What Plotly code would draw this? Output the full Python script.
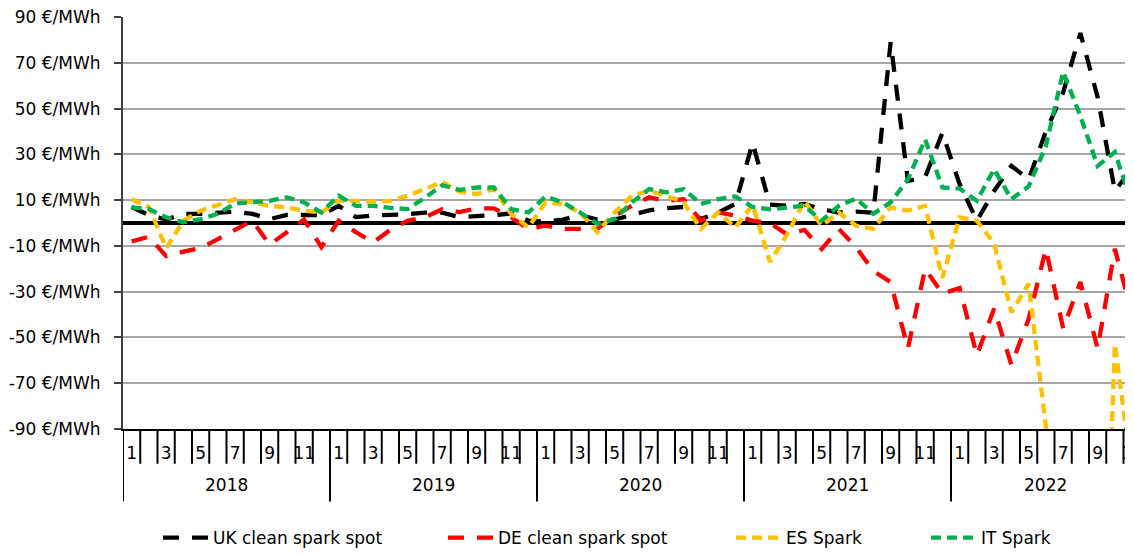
import plotly.graph_objects as go

# ---------------- data ----------------
years = [2018, 2019, 2020, 2021, 2022]
month_numbers = list(range(1, 13))
tick_months = [1, 3, 5, 7, 9, 11]
y_ticks = [90, 70, 50, 30, 10, -10, -30, -50, -70, -90]

# monthly periods Jan 2018 .. Nov 2022
periods = [(y, m) for y in years for m in month_numbers if not (y == 2022 and m == 12)]

uk_clean_spark = [7, 3.5, 1.5, 4, 4, 4.5, 5, 4, 1.7, 3.5, 3.5, 3.5,
                  7.5, 2.6, 3.3, 3.5, 3.8, 4.5, 4.5, 2.6, 2.9, 3.4, 4.2, 1,
                  0.6, 1.5, 3.5, 1.5, 1.5, 3.5, 5.5, 6.5, 7, 1.7, 4.6, 8.3,
                  35, 8, 7.5, 8.3, 6, 4.6, 5, 4.5, 79, 18.4, 20, 39.4,
                  17, 1, 14, 25, 19, 40, 57, 83, 55, 14, 24]

de_clean_spark = [-8, -6, -14.5, -12.5, -11, -7, -2.5, 1, -9.5, -4, 1.5, -10.5,
                  1, -4, -8.5, -3, 1, 2.5, 6, 4.8, 6.4, 6.4, 2.5, -2.6,
                  -1.2, -2.6, -2.6, -2.6, 3.2, 7.5, 11.2, 9.7, 10.4, 1, 4.6, 3.2,
                  1, 0, -5, -3, -11.4, -2.6, -10.6, -21, -25.8, -54.8, -20, -30.9,
                  -28.4, -57.8, -37.4, -62, -42, -11.3, -46, -25.8, -54.8, -11.3, -40]

es_spark = [10.4, 7, -11, 1, 5.4, 8, 10.4, 9, 7.5, 6.8, 5.4, 4.6,
            9.7, 9.7, 9.3, 9.7, 11.9, 14.8, 18, 13.7, 12.6, 14.8, 3.9, -1.9,
            9, 8.3, 4.6, -4, 4.6, 11.9, 14, 11.9, 9, -2.6, 4.6, -1.9,
            8, -17, -5, 9.7, -1.2, 4.6, -1.2, -2.6, 6.8, 5.4, 7.5, -24,
            2.5, 1, -9, -39, -26.5, -89, -180, -220, -260, -53, -110]

it_spark = [6.8, 6.1, 2.5, 0.3, 1.7, 4, 8.5, 9, 9.7, 11.2, 9, 4.6,
            11.9, 7.5, 7.5, 6.6, 6.1, 11, 16.5, 14.5, 15.5, 15.5, 6.1, 4.6,
            11.6, 9, 4.6, -0.4, 1.7, 9, 14.8, 13.4, 14.8, 8.3, 10.4, 11.6,
            7, 6, 6.8, 7.5, 1, 7.5, 10.7, 4, 9, 19, 36.5, 15.5,
            15, 9.7, 23.5, 10.4, 16, 33.7, 66, 46.7, 24.9, 31, 8]

series_names = ["UK clean spark spot", "DE clean spark spot", "ES Spark", "IT Spark"]

# ---------------- styling ----------------
FONT = "DejaVu Sans, Verdana, sans-serif"
FS = 17
colors = ["#000000", "#ff0000", "#ffc000", "#00b050"]
dashes = ["16px,13px", "16px,13px", "10px,6px", "10px,6px"]
legend_ids = ["legend", "legend2", "legend3", "legend4"]

OFF = 8                      # default page margin of the html body
PAGE_W, PAGE_H = 1133, 556
PLOT_LEFT, PLOT_TOP, PLOT_BOTTOM = 123, 17, 432   # page pixel coordinates
W, H = PAGE_W - OFF, PAGE_H - OFF
L = PLOT_LEFT - OFF
T = PLOT_TOP - OFF
plot_h = PLOT_BOTTOM - PLOT_TOP
B = H - T - plot_h
R = 0
plot_w = W - L - R
n_vis = plot_w / 17.25            # visible month slots
x_idx = list(range(len(periods)))


def paper_y(page_y):
    return -(page_y - PLOT_BOTTOM) / plot_h


def paper_x(page_x):
    return (page_x - PLOT_LEFT) / plot_w


fig = go.Figure()
for name, vals, col, dsh, lg in zip(series_names,
                                    [uk_clean_spark, de_clean_spark, es_spark, it_spark],
                                    colors, dashes, legend_ids):
    fig.add_trace(go.Scatter(x=x_idx, y=vals, mode="lines", name=name,
                             line=dict(color=col, width=4.3, dash=dsh),
                             legend=lg, hoverinfo="skip"))

# month separators and year separators (below the axis)
shapes = []
for k in range(len(periods) + 1):
    is_year = (k % 12 == 0)
    y1 = paper_y(505) if is_year else paper_y(467)
    shapes.append(dict(type="line", xref="x", yref="paper", x0=k - 0.5, x1=k - 0.5,
                       y0=0, y1=y1, line=dict(color="#000000", width=2)))

# year labels
annotations = []
for yr in years:
    idx = [i for i, p in enumerate(periods) if p[0] == yr]
    annotations.append(dict(x=(idx[0] + idx[-1]) / 2, y=paper_y(488),
                            xref="x", yref="paper", text=str(yr), showarrow=False,
                            font=dict(family=FONT, size=FS, color="#000000"),
                            xanchor="center", yanchor="middle"))

tickvals = [i for i, p in enumerate(periods) if p[1] in tick_months]
ticktext = [str(periods[i][1]) for i in tickvals]

legend_text_x = [215, 500, 788, 983]
ITEMW = 45
legends = {}
for lg, tx in zip(legend_ids, legend_text_x):
    legends[lg] = dict(x=paper_x(tx - ITEMW - 12), y=paper_y(542), xanchor="left", yanchor="middle",
                       orientation="h", bgcolor="rgba(0,0,0,0)", itemwidth=ITEMW,
                       font=dict(family=FONT, size=FS, color="#000000"))

fig.update_layout(
    width=W, height=H,
    margin=dict(l=L, r=R, t=T, b=B, pad=0),
    paper_bgcolor="white", plot_bgcolor="white",
    font=dict(family=FONT, size=FS, color="#000000"),
    showlegend=True,
    shapes=shapes,
    annotations=annotations,
    **legends,
)

fig.update_xaxes(range=[-0.5, -0.5 + n_vis], tickmode="array", tickvals=tickvals,
                 ticktext=ticktext, ticks="", showgrid=False, zeroline=False,
                 showline=True, linecolor="#000000", linewidth=2,
                 ticklabelstandoff=8, automargin=False, ticklabeloverflow="allow",
                 tickfont=dict(family=FONT, size=FS, color="#000000"))

fig.update_yaxes(range=[-90, 90], tickmode="array", tickvals=y_ticks,
                 ticktext=[f"{v} €/MWh" for v in y_ticks],
                 showgrid=True, gridcolor="#a6a6a6", gridwidth=1.5,
                 zeroline=True, zerolinecolor="#000000", zerolinewidth=4,
                 showline=True, linecolor="#404040", linewidth=2,
                 ticks="outside", ticklen=7, tickcolor="#404040", tickwidth=1.5,
                 ticklabelstandoff=10, automargin=False, ticklabeloverflow="allow",
                 tickfont=dict(family=FONT, size=FS, color="#000000"))

fig.write_html("out.html")
